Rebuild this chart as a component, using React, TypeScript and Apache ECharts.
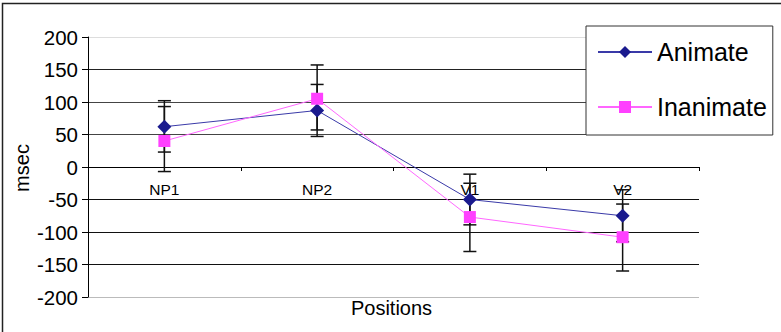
import React, { useEffect, useRef } from "react";
import * as echarts from "echarts";

const categories = ["NP1", "NP2", "V1", "V2"];
const animate = [62, 87, -50, -75];
const inanimate = [40, 105, -77, -108];
// error bar [low, high]
const animateErrLow = [23, 47, -89, -115];
const animateErrHigh = [102, 127, -11, -35];
const inanimateErrLow = [-7, 57, -130, -160];
const inanimateErrHigh = [93, 157, -25, -57];

const FONT = "'Liberation Sans', Arial, sans-serif";

export default function App() {
  const ref = useRef<HTMLDivElement>(null);
  useEffect(() => {
    if (!ref.current) return;
    const chart = echarts.init(ref.current, undefined, { renderer: "svg" });
    const errData = (lo: number[], hi: number[]) =>
      categories.map((_, i) => [i, lo[i], hi[i]]);
    const renderErr = (params: any, api: any) => {
      const x = api.value(0);
      const lo = api.coord([x, api.value(1)]);
      const hi = api.coord([x, api.value(2)]);
      const hw = 6.5;
      const st = { stroke: "#111", lineWidth: 1.5 };
      return {
        type: "group",
        children: [
          { type: "line", shape: { x1: lo[0], y1: lo[1], x2: hi[0], y2: hi[1] }, style: st },
          { type: "line", shape: { x1: lo[0] - hw, y1: lo[1], x2: lo[0] + hw, y2: lo[1] }, style: st },
          { type: "line", shape: { x1: hi[0] - hw, y1: hi[1], x2: hi[0] + hw, y2: hi[1] }, style: st },
        ],
      };
    };
    chart.setOption({
      animation: false,
      backgroundColor: "#fff",
      textStyle: { fontFamily: FONT },
      grid: { left: 88, right: 82, top: 37, bottom: 35, containLabel: false },
      legend: {
        orient: "vertical",
        left: 586,
        top: 26,
        padding: [11, 6, 13, 11],
        itemGap: 25,
        itemWidth: 54,
        itemHeight: 15,
        backgroundColor: "#fff",
        borderColor: "#333",
        borderWidth: 1,
        borderRadius: 0,
        textStyle: { fontSize: 25, lineHeight: 30, color: "#000", fontFamily: FONT },
        data: ["Animate", "Inanimate"],
        z: 10,
      },
      xAxis: {
        type: "category",
        data: categories,
        boundaryGap: true,
        position: "bottom",
        offset: -130,
        axisLine: { onZero: false, lineStyle: { color: "#000", width: 1 } },
        axisTick: { show: true, length: 4, lineStyle: { color: "#000" } },
        axisLabel: { margin: 14, fontSize: 15.5, color: "#000", fontFamily: FONT },
        splitLine: { show: false },
      },
      yAxis: {
        type: "value",
        min: -200,
        max: 200,
        interval: 50,
        axisLine: { show: true, lineStyle: { color: "#000", width: 1 } },
        axisTick: { show: true, length: 6, lineStyle: { color: "#000" } },
        axisLabel: { margin: 10, fontSize: 20.5, color: "#000", fontFamily: FONT },
        splitLine: {
          show: true,
          lineStyle: {
            color: ["#bbb", "#111", "#111", "#111", "#111", "#444", "#444", "#222", "#ddd"],
            width: 1,
          },
        },
      },
      graphic: [
        {
          type: "rect",
          shape: { x: 2.5, y: 3.5, width: 900, height: 600 },
          style: { fill: "none", stroke: "#222", lineWidth: 1.5 },
          silent: true,
        },
        {
          type: "text",
          x: 21.5,
          y: 168,
          rotation: Math.PI / 2,
          style: {
            text: "msec",
            fontSize: 20,
            fontFamily: FONT,
            fill: "#000",
            textAlign: "center",
            textVerticalAlign: "middle",
          },
        },
        {
          type: "text",
          x: 391.5,
          y: 308,
          style: {
            text: "Positions",
            fontSize: 20,
            fontFamily: FONT,
            fill: "#000",
            textAlign: "center",
            textVerticalAlign: "middle",
          },
        },
      ],
      series: [
        {
          name: "AnimateErr",
          type: "custom",
          renderItem: renderErr,
          data: errData(animateErrLow, animateErrHigh),
          encode: { x: 0, y: [1, 2] },
          z: 1,
          silent: true,
        },
        {
          name: "InanimateErr",
          type: "custom",
          renderItem: renderErr,
          data: errData(inanimateErrLow, inanimateErrHigh),
          encode: { x: 0, y: [1, 2] },
          z: 1,
          silent: true,
        },
        {
          name: "Animate",
          type: "line",
          data: animate,
          symbol: "diamond",
          symbolSize: 14,
          color: "#1a1a8e",
          lineStyle: { color: "#3a3aa8", width: 1 },
          itemStyle: { color: "#1a1a8e" },
          z: 3,
        },
        {
          name: "Inanimate",
          type: "line",
          data: inanimate,
          symbol: "rect",
          symbolSize: 12,
          color: "#ff40ff",
          lineStyle: { color: "#ff66ff", width: 1 },
          itemStyle: { color: "#ff40ff" },
          z: 3,
        },
      ],
    });
    return () => chart.dispose();
  }, []);
  return (
    <div
      ref={ref}
      style={{ position: "fixed", left: 0, top: 0, width: 781, height: 332 }}
    />
  );
}
